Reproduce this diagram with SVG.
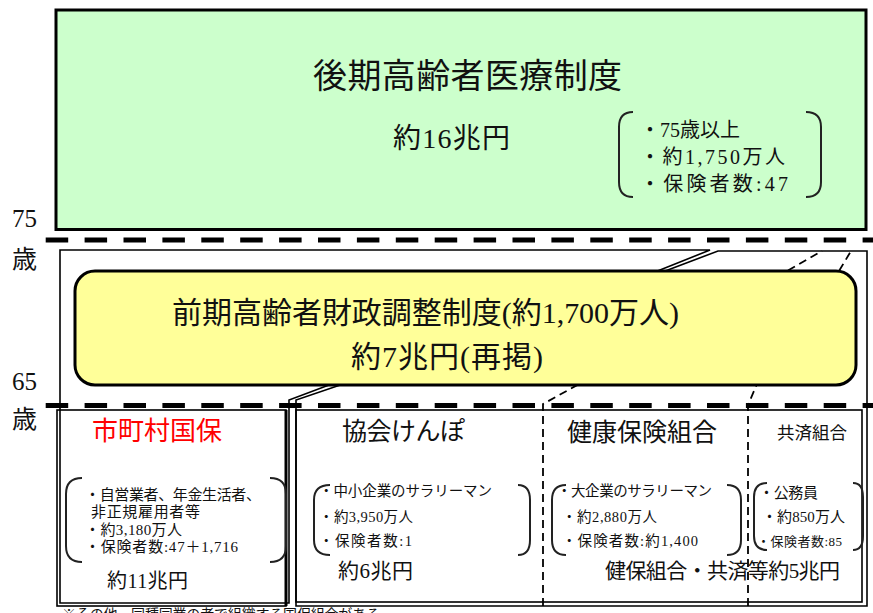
<svg xmlns="http://www.w3.org/2000/svg" width="873" height="613" viewBox="0 0 873 613">
<style>
.t{font-family:"Liberation Serif","Noto Sans CJK JP",serif;fill:#111}
.ln{fill:none;stroke:#000;stroke-width:1.6}
.dash{fill:none;stroke:#000;stroke-width:1.8;stroke-dasharray:8 5}
.age{fill:none;stroke:#000;stroke-width:5;stroke-dasharray:22.5 16.4}
.br{fill:none;stroke:#222;stroke-width:2}
</style>
<rect width="873" height="613" fill="#fff"/>

<g id="age-labels">
<text class="t" x="12" y="227" font-size="25">75</text>
<text class="t" x="12" y="268" font-size="25">歳</text>
<text class="t" x="12" y="390" font-size="25">65</text>
<text class="t" x="12" y="428" font-size="25">歳</text>
</g>

<g id="connectors">
<path class="ln" d="M289,603 L289,400 L345,379 L645,276 L710,250 L60,250 L60,603 Z"/>
<path class="ln" d="M296,606 L296,400 L352,381 L652,276 L718,251 L867,251 L867,606 Z"/>
<path class="dash" d="M543,606 L543,404 L590,378 L780,275 L822,251"/>
<path class="dash" d="M748,606 L748,405 L760,377 L836,276 L851,251"/>
<line class="age" x1="45.7" y1="240" x2="873" y2="240"/>
<line class="age" x1="45.7" y1="405.5" x2="873" y2="405.5"/>
</g>

<g id="kouki">
<rect x="56" y="10" width="810" height="219.5" fill="#ccffcc" stroke="#000" stroke-width="3"/>
<text class="t" x="313" y="88" font-size="34" textLength="309">後期高齢者医療制度</text>
<text class="t" x="393" y="148" font-size="28" textLength="117">約16兆円</text>
<path class="br" d="M633,112 Q619,112 619,127 L619,182 Q619,197 633,197"/>
<path class="br" d="M806,112 Q821,112 821,127 L821,182 Q821,197 806,197"/>
<text class="t" x="640" y="137" font-size="20" textLength="100">・75歳以上</text>
<text class="t" x="640" y="164" font-size="20" textLength="145">・約1,750万人</text>
<text class="t" x="640" y="191" font-size="20" textLength="148">・保険者数:47</text>
</g>

<g id="kokuho">
<rect x="57" y="410" width="229" height="196" fill="none" stroke="#000" stroke-width="1.6"/>
<line x1="286" y1="410" x2="286" y2="606" stroke="#000" stroke-width="3"/>
<text x="92" y="440" font-size="26" textLength="130" style="font-family:'Liberation Serif','Noto Sans CJK JP',serif;fill:#ff0000">市町村国保</text>
<path class="br" d="M82,478 Q66,478 66,494 L66,546 Q66,562 82,562"/>
<path class="br" d="M270,478 Q286,478 286,494 L286,546 Q286,562 270,562"/>
<text class="t" x="85" y="500" font-size="15" textLength="176">・自営業者、年金生活者、</text>
<text class="t" x="91" y="517" font-size="15" textLength="109">非正規雇用者等</text>
<text class="t" x="85" y="535" font-size="15" textLength="97">・約3,180万人</text>
<text class="t" x="85" y="552" font-size="15" textLength="153">・保険者数:47＋1,716</text>
<text class="t" x="107" y="588" font-size="20" textLength="81">約11兆円</text>
</g>

<g id="employee-frame">
<rect x="296" y="410" width="566" height="192" fill="none" stroke="#000" stroke-width="1.6"/>
</g>

<g id="kyokai">
<text class="t" x="342" y="440" font-size="25" textLength="123">協会けんぽ</text>
<path class="br" d="M330,485 Q314,485 314,500 L314,540 Q314,555 330,555"/>
<path class="br" d="M518,485 Q530,485 530,500 L530,540 Q530,555 518,555"/>
<text class="t" x="319" y="496" font-size="14.5" textLength="173">・中小企業のサラリーマン</text>
<text class="t" x="319" y="522" font-size="14.5" textLength="94">・約3,950万人</text>
<text class="t" x="319" y="546" font-size="14.5" textLength="93">・保険者数:1</text>
<text class="t" x="338" y="578" font-size="21" textLength="75">約6兆円</text>
</g>

<g id="kenpo">
<text class="t" x="567" y="441" font-size="25" textLength="150">健康保険組合</text>
<path class="br" d="M566,485 Q552,485 552,500 L552,540 Q552,555 566,555"/>
<path class="br" d="M727,485 Q741,485 741,500 L741,540 Q741,555 727,555"/>
<text class="t" x="557" y="496" font-size="14.5" textLength="155">・大企業のサラリーマン</text>
<text class="t" x="562" y="522" font-size="14.5" textLength="95">・約2,880万人</text>
<text class="t" x="562" y="546" font-size="14.5" textLength="136">・保険者数:約1,400</text>
<text class="t" x="605" y="578" font-size="21" textLength="235">健保組合・共済等約5兆円</text>
</g>

<g id="kyosai">
<text class="t" x="777" y="439" font-size="17.5" textLength="70">共済組合</text>
<path class="br" d="M767,483 Q754,483 754,497 L754,536 Q754,550 767,550"/>
<path class="br" d="M853,483 Q863,483 863,497 L863,536 Q863,550 853,550"/>
<text class="t" x="759" y="498" font-size="15" textLength="59">・公務員</text>
<text class="t" x="762" y="522" font-size="15" textLength="83">・約850万人</text>
<text class="t" x="757" y="546" font-size="13" textLength="85">・保険者数:85</text>
</g>

<g id="zenki">
<rect x="75" y="271" width="781" height="114" rx="20" ry="20" fill="#ffff99" stroke="#000" stroke-width="3"/>
<text class="t" x="172" y="323" font-size="30" textLength="507">前期高齢者財政調整制度(約1,700万人)</text>
<text class="t" x="351" y="367" font-size="30" textLength="192">約7兆円(再掲)</text>
</g>

<g id="note">
<text class="t" x="62" y="619" font-size="14" textLength="318">※その他、同種同業の者で組織する国保組合がある</text>
</g>
</svg>
